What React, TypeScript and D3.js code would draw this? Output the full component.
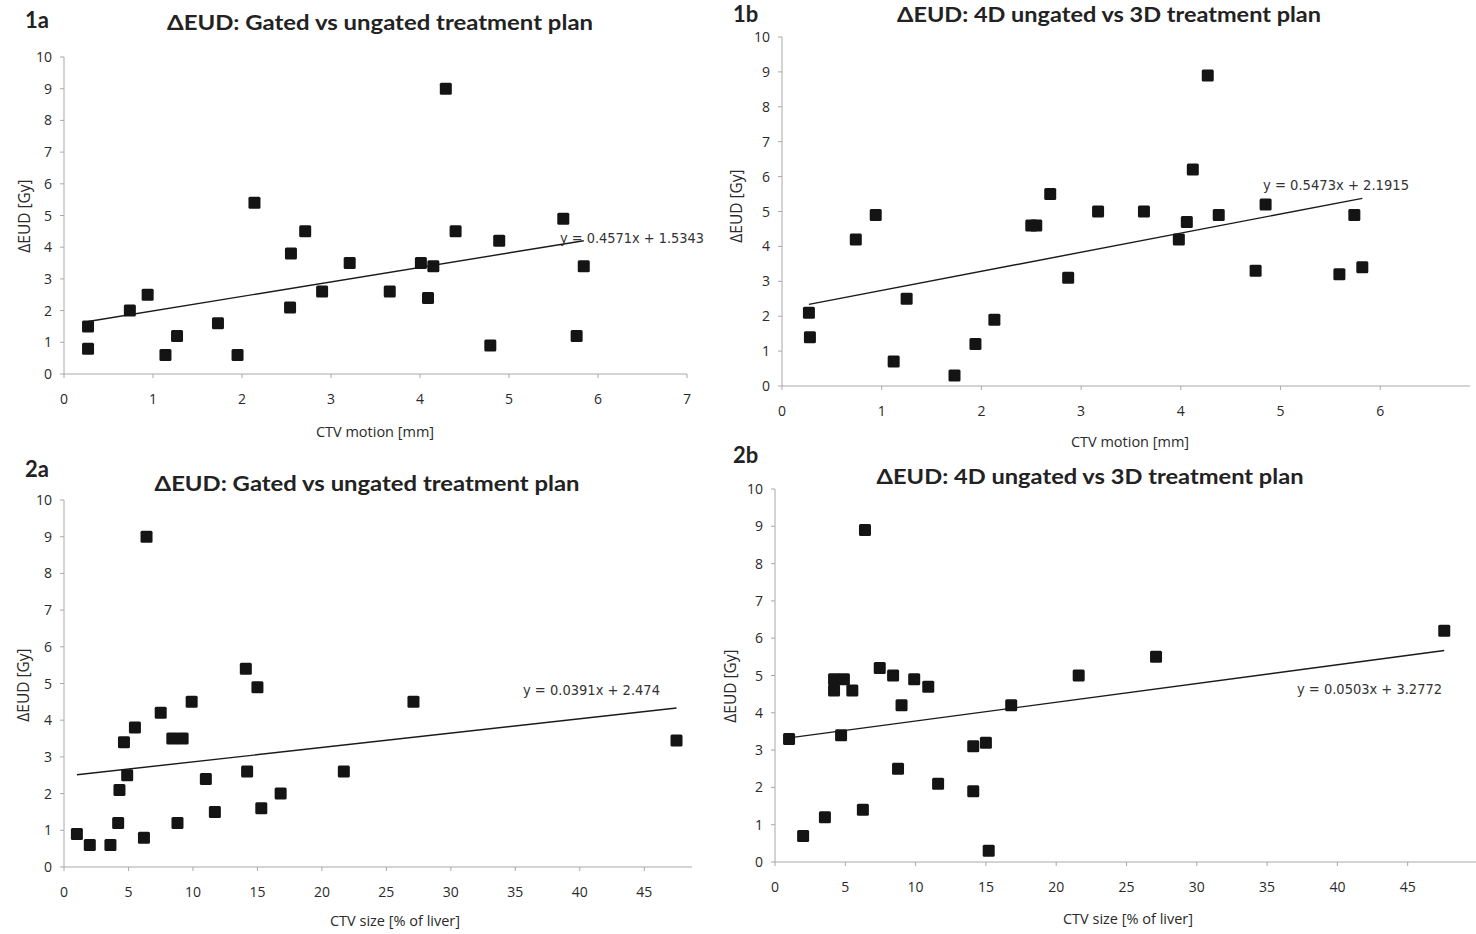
import React from "react";
import * as d3 from "d3";

// ΔEUD [Gy] versus CTV motion [mm] and CTV size [% of liver]
const motionGated = [0.27, 0.27, 0.74, 0.94, 1.14, 1.27, 1.73, 1.95, 2.14, 2.54, 2.55, 2.71, 2.9, 3.21, 3.66, 4.01, 4.09, 4.15, 4.29, 4.4, 4.79, 4.89, 5.61, 5.76, 5.84];
const eudGatedByMotion = [1.5, 0.8, 2.0, 2.5, 0.6, 1.2, 1.6, 0.6, 5.4, 2.1, 3.8, 4.5, 2.6, 3.5, 2.6, 3.5, 2.4, 3.4, 9.0, 4.5, 0.9, 4.2, 4.9, 1.2, 3.4];

const motion4D = [0.27, 0.28, 0.74, 0.94, 1.12, 1.25, 1.73, 1.94, 2.13, 2.5, 2.55, 2.69, 2.87, 3.17, 3.63, 3.98, 4.06, 4.12, 4.27, 4.38, 4.75, 4.85, 5.59, 5.74, 5.82];
const eud4DByMotion = [2.1, 1.4, 4.2, 4.9, 0.7, 2.5, 0.3, 1.2, 1.9, 4.6, 4.6, 5.5, 3.1, 5.0, 5.0, 4.2, 4.7, 6.2, 8.9, 4.9, 3.3, 5.2, 3.2, 4.9, 3.4];

const sizeGated = [1.0, 2.0, 3.6, 4.2, 4.3, 4.65, 4.9, 5.5, 6.2, 6.4, 7.5, 8.4, 9.2, 8.8, 9.9, 11.0, 11.7, 14.1, 14.2, 15.0, 15.3, 16.8, 21.7, 27.1, 47.5];
const eudGatedBySize = [0.9, 0.6, 0.6, 1.2, 2.1, 3.4, 2.5, 3.8, 0.8, 9.0, 4.2, 3.5, 3.5, 1.2, 4.5, 2.4, 1.5, 5.4, 2.6, 4.9, 1.6, 2.0, 2.6, 4.5, 3.45];

const size4D = [1.0, 2.0, 3.55, 4.2, 4.2, 4.9, 4.7, 5.5, 6.25, 6.4, 7.45, 8.4, 8.75, 9.0, 9.9, 10.9, 11.6, 14.1, 14.1, 15.0, 15.2, 16.8, 21.6, 27.1, 47.6];
const eud4DBySize = [3.3, 0.7, 1.2, 4.9, 4.6, 4.9, 3.4, 4.6, 1.4, 8.9, 5.2, 5.0, 2.5, 4.2, 4.9, 4.7, 2.1, 1.9, 3.1, 3.2, 0.3, 4.2, 5.0, 5.5, 6.2];

// Linear trend lines: [slope, intercept]
const fitGatedMotion = [0.4571, 1.5343];
const fit4DMotion = [0.5473, 2.1915];
const fitGatedSize = [0.0391, 2.474];
const fit4DSize = [0.0503, 3.2772];

const eqGatedMotion = "y = 0.4571x + 1.5343";
const eq4DMotion = "y = 0.5473x + 2.1915";
const eqGatedSize = "y = 0.0391x + 2.474";
const eq4DSize = "y = 0.0503x + 3.2772";

const yTicks = [0, 1, 2, 3, 4, 5, 6, 7, 8, 9, 10];
const motionTicks = [0, 1, 2, 3, 4, 5, 6, 7];
const motionTicks1b = [0, 1, 2, 3, 4, 5, 6];
const sizeTicks = [0, 5, 10, 15, 20, 25, 30, 35, 40, 45];

const titleGated = "ΔEUD: Gated vs ungated treatment plan";
const title4D = "ΔEUD: 4D ungated vs 3D treatment plan";
const yTitle = "ΔEUD [Gy]";
const xTitleMotion = "CTV motion [mm]";
const xTitleSize = "CTV size [% of liver]";

const TITLE_FONT = "Lato, 'Open Sans', 'Noto Sans', sans-serif";
const TICK_FONT = "'Open Sans', 'Noto Sans', sans-serif";
const EQ_FONT = "'Liberation Sans Narrow', 'DejaVu Sans Condensed', 'Liberation Sans', sans-serif";

type Panel = {
  tag: string;
  tagX: number;
  tagY: number;
  title: string;
  titleX: number;
  titleY: number;
  titleW: number;
  xs: number[];
  ys: number[];
  fit: number[];
  eq: string;
  eqX: number;
  eqY: number;
  eqW: number;
  xDomain: [number, number];
  xRange: [number, number];
  yRange: [number, number];
  xTicks: number[];
  xTitle: string;
  xTitleX: number;
  xTitleY: number;
  yTitleX: number;
  yTitleY: number;
};

const panels: Panel[] = [
  {
    tag: "1a", tagX: 25, tagY: 28, title: titleGated, titleX: 380, titleY: 30, titleW: 426,
    xs: motionGated, ys: eudGatedByMotion, fit: fitGatedMotion, eq: eqGatedMotion,
    eqX: 560, eqY: 243, eqW: 144,
    xDomain: [0, 7], xRange: [64, 687], yRange: [374, 57], xTicks: motionTicks,
    xTitle: xTitleMotion, xTitleX: 375, xTitleY: 437, yTitleX: 30, yTitleY: 216,
  },
  {
    tag: "1b", tagX: 733, tagY: 22, title: title4D, titleX: 1109, titleY: 22, titleW: 424,
    xs: motion4D, ys: eud4DByMotion, fit: fit4DMotion, eq: eq4DMotion,
    eqX: 1263, eqY: 190, eqW: 146,
    xDomain: [0, 6.9], xRange: [782, 1470], yRange: [386, 37], xTicks: motionTicks1b,
    xTitle: xTitleMotion, xTitleX: 1130, xTitleY: 447, yTitleX: 742, yTitleY: 206,
  },
  {
    tag: "2a", tagX: 25, tagY: 477, title: titleGated, titleX: 367, titleY: 491, titleW: 425,
    xs: sizeGated, ys: eudGatedBySize, fit: fitGatedSize, eq: eqGatedSize,
    eqX: 523, eqY: 695, eqW: 137,
    xDomain: [0, 48.7], xRange: [64, 692], yRange: [867, 500], xTicks: sizeTicks,
    xTitle: xTitleSize, xTitleX: 395, xTitleY: 926, yTitleX: 29, yTitleY: 685,
  },
  {
    tag: "2b", tagX: 733, tagY: 463, title: title4D, titleX: 1090, titleY: 484, titleW: 427,
    xs: size4D, ys: eud4DBySize, fit: fit4DSize, eq: eq4DSize,
    eqX: 1297, eqY: 694, eqW: 145,
    xDomain: [0, 50], xRange: [775, 1478], yRange: [862, 489], xTicks: sizeTicks,
    xTitle: xTitleSize, xTitleX: 1128, xTitleY: 924, yTitleX: 736, yTitleY: 686,
  },
];

const MARK = 12;

function ScatterPanel({ p }: { p: Panel }) {
  const x = d3.scaleLinear().domain(p.xDomain).range(p.xRange);
  const y = d3.scaleLinear().domain([0, 10]).range(p.yRange);
  const [x0, x1] = p.xRange;
  const [yb, yt] = p.yRange;
  const xMin = d3.min(p.xs) as number;
  const xMax = d3.max(p.xs) as number;
  const fitLine = d3
    .line<number>()
    .x((v) => x(v))
    .y((v) => y(p.fit[0] * v + p.fit[1]));
  const axisColor = "#a8a8a8";
  return (
    <g>
      <text x={p.tagX} y={p.tagY} fontFamily={TITLE_FONT} fontWeight={700} fontSize={22} fill="#222">
        {p.tag}
      </text>
      <text
        x={p.titleX}
        y={p.titleY}
        textAnchor="middle"
        fontFamily={TITLE_FONT}
        fontWeight={700}
        fontSize={21}
        fill="#222"
        textLength={p.titleW}
        lengthAdjust="spacingAndGlyphs"
      >
        {p.title}
      </text>

      {/* axes */}
      <line x1={x0} x2={x0} y1={yb} y2={yt} stroke={axisColor} strokeWidth={1} />
      <line x1={x0} x2={Math.min(x1, 1476)} y1={yb} y2={yb} stroke={axisColor} strokeWidth={1} />
      {yTicks.map((t) => (
        <g key={"y" + t}>
          <line x1={x0 - 4} x2={x0} y1={y(t)} y2={y(t)} stroke={axisColor} strokeWidth={1} />
          <text
            x={x0 - 12}
            y={y(t) + 5}
            textAnchor="end"
            fontFamily={TICK_FONT}
            fontSize={14}
            fill="#2a2a2a"
          >
            {t}
          </text>
        </g>
      ))}
      {p.xTicks.map((t) => (
        <g key={"x" + t}>
          <line x1={x(t)} x2={x(t)} y1={yb} y2={yb + 4} stroke={axisColor} strokeWidth={1} />
          <text
            x={x(t)}
            y={yb + 30}
            textAnchor="middle"
            fontFamily={TICK_FONT}
            fontSize={14}
            fill="#2a2a2a"
          >
            {t}
          </text>
        </g>
      ))}

      <text
        x={p.xTitleX}
        y={p.xTitleY}
        textAnchor="middle"
        fontFamily={TICK_FONT}
        fontSize={14.5}
        fill="#2a2a2a"
      >
        {p.xTitle}
      </text>
      <text
        transform={`translate(${p.yTitleX},${p.yTitleY}) rotate(-90)`}
        textAnchor="middle"
        fontFamily={TICK_FONT}
        fontSize={15.5}
        fill="#2a2a2a"
      >
        {yTitle}
      </text>

      {/* trend line */}
      <path d={fitLine([xMin, xMax]) ?? ""} fill="none" stroke="#1a1a1a" strokeWidth={1.4} />

      {/* data points */}
      {p.xs.map((v, i) => (
        <rect
          key={i}
          x={x(v) - MARK / 2}
          y={y(p.ys[i]) - MARK / 2}
          width={MARK}
          height={MARK}
          rx={1.5}
          fill="#141414"
        />
      ))}

      <text
        x={p.eqX}
        y={p.eqY}
        fontFamily={EQ_FONT}
        fontSize={14}
        fill="#333"
        textLength={p.eqW}
        lengthAdjust="spacingAndGlyphs"
      >
        {p.eq}
      </text>
    </g>
  );
}

export default function App() {
  return (
    <svg
      width={1476}
      height={934}
      viewBox="0 0 1476 934"
      style={{ position: "absolute", left: 0, top: 0, background: "#fff" }}
    >
      <rect width={1476} height={934} fill="#fff" />
      {panels.map((p) => (
        <ScatterPanel key={p.tag} p={p} />
      ))}
    </svg>
  );
}
